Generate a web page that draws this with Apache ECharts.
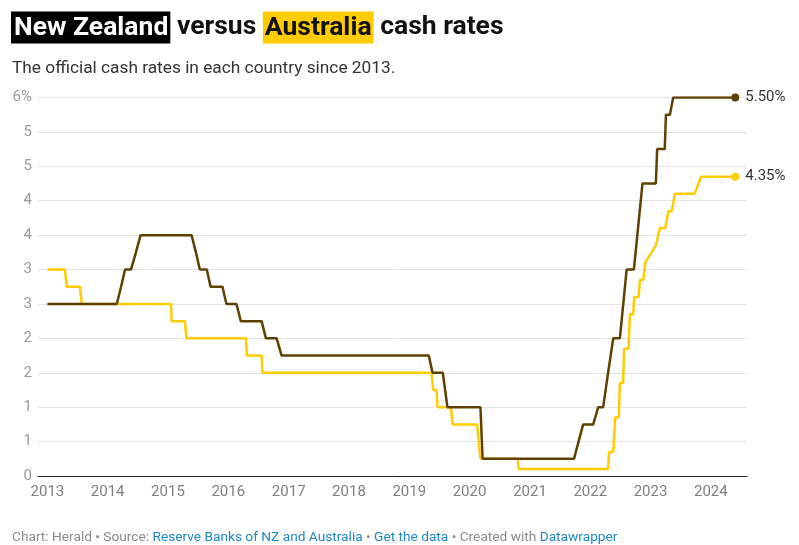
<!DOCTYPE html>
<html>
<head>
<meta charset="utf-8">
<script src="https://cdn.jsdelivr.net/npm/echarts@6/dist/echarts.min.js"></script>
<style>
  html, body { margin: 0; padding: 0; background: #fff; }
  #chart { width: 799px; height: 545px; }
</style>
</head>
<body>
<div id="chart"></div>
<script>
// ---- Data ----
const nzDates = ['2013-01-01','2014-02-25','2014-03-23','2014-04-16','2014-05-22','2014-06-21','2014-07-19',
  '2015-05-24','2015-06-19','2015-07-13','2015-08-24','2015-09-16','2015-11-27','2015-12-21',
  '2016-02-20','2016-03-17','2016-07-21','2016-08-16','2016-10-20','2016-11-19',
  '2019-04-29','2019-05-22','2019-07-23','2019-08-20','2020-03-07','2020-03-20',
  '2021-09-25','2021-10-22','2021-11-19','2022-01-19','2022-02-18','2022-03-20','2022-04-19','2022-05-20',
  '2022-06-29','2022-07-20','2022-08-09','2022-09-22','2022-10-13','2022-11-13',
  '2023-02-02','2023-02-10','2023-03-28','2023-04-04','2023-04-28','2023-05-18','2024-05-28'];
const nzRates = [2.5,2.5,2.75,3.0,3.0,3.25,3.5,
  3.5,3.25,3.0,3.0,2.75,2.75,2.5,
  2.5,2.25,2.25,2.0,2.0,1.75,
  1.75,1.5,1.5,1.0,1.0,0.25,
  0.25,0.5,0.75,0.75,1.0,1.0,1.5,2.0,
  2.0,2.5,3.0,3.0,3.5,4.25,
  4.25,4.75,4.75,5.25,5.25,5.5,5.5];

const auDates = ['2013-01-01','2013-04-17','2013-04-28','2013-07-17','2013-07-28',
  '2015-01-19','2015-01-23','2015-04-13','2015-04-23',
  '2016-04-17','2016-04-23','2016-07-21','2016-07-26',
  '2019-05-16','2019-05-26','2019-06-15','2019-06-21','2019-09-10','2019-09-21',
  '2020-02-16','2020-03-07','2020-10-19','2020-10-25',
  '2022-04-19','2022-04-25','2022-05-20','2022-06-01','2022-06-23','2022-06-29','2022-07-19','2022-07-25',
  '2022-08-21','2022-08-29','2022-09-18','2022-09-24','2022-10-21','2022-10-29','2022-11-18','2022-11-30',
  '2023-02-02','2023-02-26','2023-03-30','2023-04-20','2023-05-10','2023-05-28','2023-09-24','2023-11-03','2024-05-28'];
const auRates = [3.0,3.0,2.75,2.75,2.5,
  2.5,2.25,2.25,2.0,
  2.0,1.75,1.75,1.5,
  1.5,1.25,1.25,1.0,1.0,0.75,
  0.75,0.25,0.25,0.1,
  0.1,0.35,0.35,0.85,0.85,1.35,1.35,1.85,
  1.85,2.35,2.35,2.6,2.6,2.85,2.85,3.1,
  3.35,3.6,3.6,3.85,3.85,4.1,4.1,4.35,4.35];

const xTickYears = [2013,2014,2015,2016,2017,2018,2019,2020,2021,2022,2023,2024];
const yTickLabels = ['0','1','1','2','2','3','3','4','4','5','5','6%'];

const titleText = '{nz|New Zealand} versus {au|Australia} cash rates';
const subtitleText = 'The official cash rates in each country since 2013.';
const footerText = '{g|Chart: Herald • Source: }{l|Reserve Banks of NZ and Australia}{g| • }{l|Get the data}{g| • Created with }{l|Datawrapper}';

const NZ_COLOR = '#5e4100';
const AU_COLOR = '#ffcc00';
const FONT = 'Roboto, "Noto Sans", sans-serif';

function ts(s) { return Date.parse(s + 'T00:00:00Z'); }

function buildData(dates, rates) {
  return dates.map((d, i) => {
    const item = { value: [ts(d), rates[i]] };
    if (i === dates.length - 1) {
      item.symbol = 'circle';
      item.symbolSize = 8;
    }
    return item;
  });
}

const chart = echarts.init(document.getElementById('chart'), null, { renderer: 'canvas' });
chart.setOption({
  animation: false,
  backgroundColor: '#fff',
  textStyle: { fontFamily: FONT },
  title: [
    {
      left: 11, top: 14, padding: 0,
      text: titleText,
      textStyle: {
        fontFamily: FONT, fontSize: 26.5, fontWeight: 'bold', color: '#111', lineHeight: 27,
        rich: {
          nz: { fontFamily: FONT, fontSize: 26.5, fontWeight: 'bold', color: '#fff', backgroundColor: '#000', lineHeight: 27, padding: [3, 2, 2, 3] },
          au: { fontFamily: FONT, fontSize: 26.5, fontWeight: 'bold', color: '#111', backgroundColor: AU_COLOR, lineHeight: 27, padding: [3, 2, 2, 2] }
        }
      }
    },
    {
      left: 12, top: 60, padding: 0,
      text: subtitleText,
      textStyle: { fontFamily: FONT, fontSize: 17.3, fontWeight: 'normal', color: '#333' }
    },
    {
      left: 12, top: 531, padding: 0,
      text: footerText,
      textStyle: {
        fontFamily: FONT, fontSize: 13.7, fontWeight: 'normal',
        rich: {
          g: { fontFamily: FONT, fontSize: 13.7, color: '#8a8a8a' },
          l: { fontFamily: FONT, fontSize: 13.7, color: '#1d87c8' }
        }
      }
    }
  ],
  grid: { left: 38, right: 52, top: 97.5, bottom: 69 },
  xAxis: {
    type: 'value',
    min: ts('2012-11-05'),
    max: ts('2024-08-07'),
    axisLine: { show: true, onZero: false, lineStyle: { color: '#222', width: 1 } },
    axisTick: { show: false },
    splitLine: { show: false },
    axisLabel: {
      customValues: xTickYears.map(y => ts(y + '-01-01')),
      formatter: v => String(new Date(v).getUTCFullYear()),
      color: '#808080', fontSize: 15, fontFamily: FONT, margin: 9
    }
  },
  yAxis: {
    type: 'value',
    min: 0, max: 5.5, interval: 0.5,
    axisLine: { show: false },
    axisTick: { show: false },
    splitLine: { show: true, lineStyle: { color: '#e3e3e3', width: 1 } },
    axisLabel: {
      formatter: v => yTickLabels[Math.round(v / 0.5)],
      color: '#9a9a9a', fontSize: 15, fontFamily: FONT, margin: 6
    }
  },
  series: [
    {
      name: 'Australia',
      type: 'line',
      data: buildData(auDates, auRates),
      symbol: 'none',
      showAllSymbol: true,
      color: AU_COLOR,
      lineStyle: { color: AU_COLOR, width: 2.5 },
      itemStyle: { color: AU_COLOR },
      endLabel: {
        show: true, distance: 10,
        formatter: p => p.value[1].toFixed(2) + '%',
        color: '#333', fontSize: 15, fontFamily: FONT
      },
      z: 2
    },
    {
      name: 'New Zealand',
      type: 'line',
      data: buildData(nzDates, nzRates),
      symbol: 'none',
      showAllSymbol: true,
      color: NZ_COLOR,
      lineStyle: { color: NZ_COLOR, width: 2.5 },
      itemStyle: { color: NZ_COLOR },
      endLabel: {
        show: true, distance: 10,
        formatter: p => p.value[1].toFixed(2) + '%',
        color: '#333', fontSize: 15, fontFamily: FONT
      },
      z: 3
    }
  ]
});
</script>
</body>
</html>
